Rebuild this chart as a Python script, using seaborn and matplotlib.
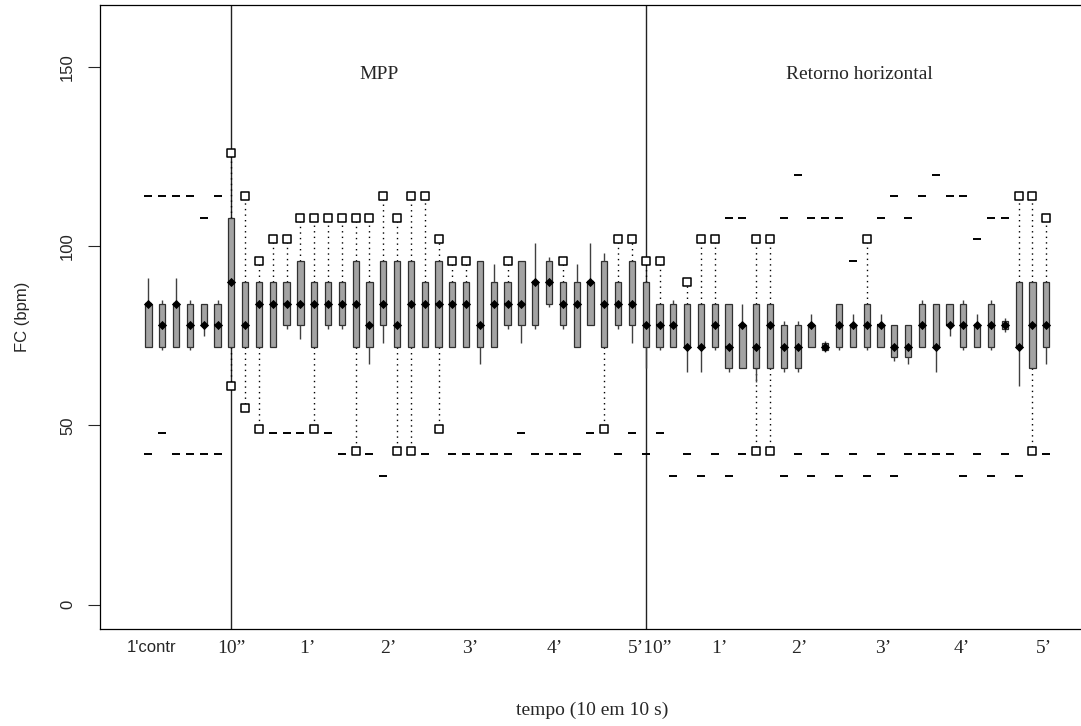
import numpy as np
import pandas as pd
import matplotlib
matplotlib.use("Agg")
import matplotlib.pyplot as plt
import seaborn as sns

nan = np.nan

# ---- data (FC in bpm), one entry per 10-s interval ----
# 0-5: 1' controle, 6-35: MPP (10" .. 5'), 36-65: Retorno horizontal (10" .. 5')
wlo = [72, 71, 72, 71, 75, 72,
       72, 72, 72, 72, 77, 74, 72, 77, 77, 72, 67, 73, 72, 72, 72, 72, 72, 72, 67, 72, 77, 73, 77, 83, 77, 72, 78, 72, 77, 73,
       66, 71, 72, 65, 65, 71, 65, 66, 62, 66, 65, 65, 72, 70.5, 71, 72, 71, 72, 68, 67, 72, 65, 75, 71, 72, 71, 76, 61, 66, 67]
q1 = [72, 72, 72, 72, 78, 72,
      72, 72, 72, 72, 78, 78, 72, 78, 78, 72, 72, 78, 72, 72, 72, 72, 72, 72, 72, 72, 78, 78, 78, 84, 78, 72, 78, 72, 78, 78,
      72, 72, 72, 72, 72, 72, 66, 66, 66, 66, 66, 66, 72, 71, 72, 72, 72, 72, 69, 69, 72, 72, 78, 72, 72, 72, 77, 72, 66, 72]
med = [84, 78, 84, 78, 78, 78,
       90, 78, 84, 84, 84, 84, 84, 84, 84, 84, 78, 84, 78, 84, 84, 84, 84, 84, 78, 84, 84, 84, 90, 90, 84, 84, 90, 84, 84, 84,
       78, 78, 78, 72, 72, 78, 72, 78, 72, 78, 72, 72, 78, 72, 78, 78, 78, 78, 72, 72, 78, 72, 78, 78, 78, 78, 78, 72, 78, 78]
q3 = [84, 84, 84, 84, 84, 84,
      108, 90, 90, 90, 90, 96, 90, 90, 90, 96, 90, 96, 96, 96, 90, 96, 90, 90, 96, 90, 90, 96, 90, 96, 90, 90, 90, 96, 90, 96,
      90, 84, 84, 84, 84, 84, 84, 78, 84, 84, 78, 78, 78, 73, 84, 78, 84, 78, 78, 78, 84, 84, 84, 84, 78, 84, 79, 90, 90, 90]
whi = [91, 85, 91, 85, 84, 85,
       108, 90, 90, 90, 90, 96, 90, 90, 90, 96, 90, 96, 96, 96, 90, 96, 90, 90, 96, 95, 90, 96, 101, 97, 90, 95, 101, 98, 90, 96,
       90, 84, 85, 84, 84, 84, 84, 84, 84, 84, 79, 79, 81, 73.5, 84, 81, 84, 81, 78, 78, 85, 84, 84, 85, 81, 85, 80, 90, 90, 90]
# extreme values marked with squares (joined by dotted lines)
sq_hi = [nan, nan, nan, nan, nan, nan,
         126, 114, 96, 102, 102, 108, 108, 108, 108, 108, 108, 114, 108, 114, 114, 102, 96, 96, nan, nan, 96, nan, nan, nan, 96, nan, nan, nan, 102, 102,
         96, 96, nan, 90, 102, 102, nan, nan, 102, 102, nan, nan, nan, nan, nan, nan, 102, nan, nan, nan, nan, nan, nan, nan, nan, nan, nan, 114, 114, 108]
sq_lo = [nan, nan, nan, nan, nan, nan,
         61, 55, 49, nan, nan, nan, 49, nan, nan, 43, nan, nan, 43, 43, nan, 49, nan, nan, nan, nan, nan, nan, nan, nan, nan, nan, nan, 49, nan, nan,
         nan, nan, nan, nan, nan, nan, nan, nan, 43, 43, nan, nan, nan, nan, nan, nan, nan, nan, nan, nan, nan, nan, nan, nan, nan, nan, nan, nan, 43, nan]
# outliers drawn as short dashes
dash_hi = [114, 114, 114, 114, 108, 114,
           nan, nan, nan, nan, nan, nan, nan, nan, nan, nan, nan, nan, nan, nan, nan, nan, nan, nan, nan, nan, nan, nan, nan, nan, nan, nan, nan, nan, nan, nan,
           nan, nan, nan, nan, nan, nan, 108, 108, nan, nan, 108, 120, 108, 108, 108, 96, nan, 108, 114, 108, 114, 120, 114, 114, 102, 108, 108, nan, nan, nan]
dash_lo = [42, 48, 42, 42, 42, 42,
           nan, nan, nan, 48, 48, 48, nan, 48, 42, nan, 42, 36, nan, nan, 42, nan, 42, 42, 42, 42, 42, 48, 42, 42, 42, 42, 48, nan, 42, 48,
           42, 48, 36, 42, 36, 42, 36, 42, nan, nan, 36, 42, 36, 42, 36, 42, 36, 42, 36, 42, 42, 42, 42, 36, 42, 36, 42, 36, nan, 42]

phase_start = [6, 36]
phase_names = ["MPP", "Retorno horizontal"]
phase_name_pos = [16.7, 51.5]

tick_pos = [0.2, 6, 11.5, 17.4, 23.3, 29.4, 36.3, 41.3, 47.1, 53.2, 58.9, 64.8]
tick_labels = ["1'contr", "10\u201d", "1\u2019", "2\u2019", "3\u2019", "4\u2019", "5\u201910\u201d",
               "1\u2019", "2\u2019", "3\u2019", "4\u2019", "5\u2019"]

# ---- figure ----
sns.set_style("white")
plt.rcParams["font.family"] = ["Liberation Sans", "DejaVu Sans"]
serif = ["Liberation Serif", "DejaVu Serif"]

n = len(med)
idx = np.arange(n)
rows = []
for i in range(n):
    for v in (wlo[i], q1[i], med[i], q3[i], whi[i]):
        rows.append((i, v))
df = pd.DataFrame(rows, columns=["box", "fc"])

fig = plt.figure(figsize=(10.81, 7.26), dpi=100)
ax = fig.add_axes([0.0925, 0.1336, 0.9105, 0.8595])

sns.boxplot(data=df, x="box", y="fc", native_scale=True, whis=(0, 100),
            width=0.45, color="#a3a3a3", linecolor="#303030", linewidth=0.9,
            showcaps=False, fliersize=0, saturation=1,
            medianprops=dict(color="black", linewidth=1.6),
            whiskerprops=dict(color="#404040", linewidth=1.0),
            ax=ax)

sq_hi_a = np.array(sq_hi, float)
sq_lo_a = np.array(sq_lo, float)
m = ~np.isnan(sq_hi_a)
ax.vlines(idx[m], np.array(q3, float)[m], sq_hi_a[m], colors="black",
          linestyles=(0, (1, 3)), linewidth=1.0, zorder=1)
m2 = ~np.isnan(sq_lo_a)
ax.vlines(idx[m2], np.array(q1, float)[m2], sq_lo_a[m2], colors="black",
          linestyles=(0, (1, 3)), linewidth=1.0, zorder=1)

sns.scatterplot(x=idx, y=med, marker="D", s=22, color="black", linewidth=0, ax=ax, zorder=5)
sns.scatterplot(x=idx, y=sq_hi_a, marker="s", s=26, facecolor="white", edgecolor="black", linewidth=1.1, ax=ax, zorder=5)
sns.scatterplot(x=idx, y=sq_lo_a, marker="s", s=26, facecolor="white", edgecolor="black", linewidth=1.1, ax=ax, zorder=5)
sns.scatterplot(x=idx, y=np.array(dash_hi, float), marker="_", s=40, color="black", linewidth=1.4, ax=ax, zorder=5)
sns.scatterplot(x=idx, y=np.array(dash_lo, float), marker="_", s=40, color="black", linewidth=1.4, ax=ax, zorder=5)

for p in phase_start:
    ax.axvline(p, color="#222222", linewidth=1.0, zorder=0)
for name, p in zip(phase_names, phase_name_pos):
    ax.text(p, 148, name, ha="center", va="center", fontsize=14, family=serif)

ax.set_xlim(-3.51, 67.75)
ax.set_ylim(-6.8, 167.3)
ax.set_yticks([0, 50, 100, 150])
ax.set_yticklabels(["0", "50", "100", "150"], rotation=90, va="center", fontsize=12)
ax.tick_params(axis="y", length=9, width=0.8, pad=9, left=True)
ax.set_xticks(tick_pos)
ax.set_xticklabels(tick_labels, fontsize=14)
ax.tick_params(axis="x", length=0, pad=8)
for k, lab in enumerate(ax.get_xticklabels()):
    if k == 0:
        lab.set_family(["Liberation Sans", "DejaVu Sans"])
        lab.set_fontsize(12)
    else:
        lab.set_family(serif)
ax.set_xlabel("tempo (10 em 10 s)", fontsize=14, family=serif)
ax.xaxis.set_label_coords(0.5, -0.131)
ax.xaxis.label.set_va("center")
ax.set_ylabel("FC (bpm)", fontsize=12)
ax.yaxis.set_label_coords(-0.0785, 0.5)
ax.yaxis.label.set_va("center")
for s in ax.spines.values():
    s.set_color("black")
    s.set_linewidth(0.9)
ax.spines["right"].set_visible(False)
ax.grid(False)

fig.savefig("out.png", dpi=100)
